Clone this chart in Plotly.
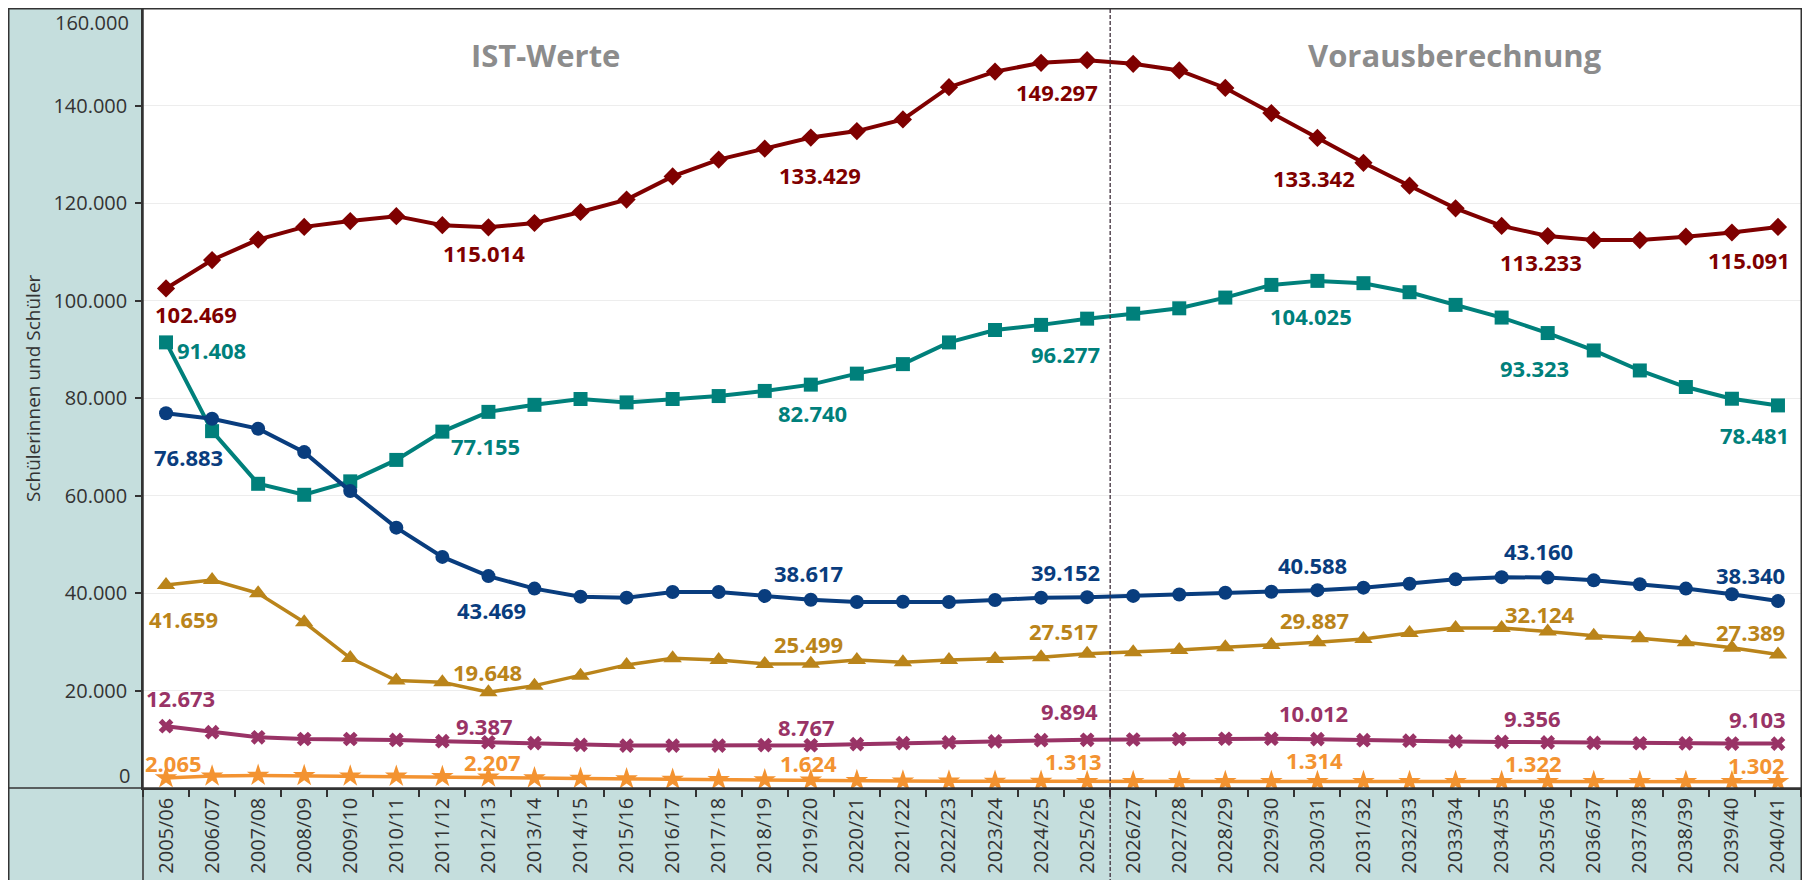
import plotly.graph_objects as go

# ---------------- data ----------------
categories = [
    "2005/06", "2006/07", "2007/08", "2008/09", "2009/10", "2010/11", "2011/12",
    "2012/13", "2013/14", "2014/15", "2015/16", "2016/17", "2017/18", "2018/19",
    "2019/20", "2020/21", "2021/22", "2022/23", "2023/24", "2024/25", "2025/26",
    "2026/27", "2027/28", "2028/29", "2029/30", "2030/31", "2031/32", "2032/33",
    "2033/34", "2034/35", "2035/36", "2036/37", "2037/38", "2038/39", "2039/40",
    "2040/41",
]

red_values = [
    102469, 108300, 112500, 115100, 116300, 117300, 115450, 115014, 115900,
    118150, 120700, 125450, 128900, 131150, 133429, 134750, 137150, 143750,
    146950, 148750, 149297, 148550, 147200, 143600, 138450, 133342, 128250,
    123550, 118900, 115300, 113233, 112400, 112400, 113100, 113950, 115091,
]

teal_values = [
    91408, 73200, 62400, 60150, 62900, 67300, 73100, 77155, 78600,
    79800, 79100, 79800, 80400, 81450, 82740, 85000, 86950, 91400,
    93950, 95000, 96277, 97300, 98400, 100600, 103200, 104025, 103550,
    101700, 99100, 96500, 93323, 89750, 85650, 82250, 79850, 78481,
]

navy_values = [
    76883, 75750, 73700, 68900, 60900, 53400, 47400, 43469, 40900,
    39250, 39050, 40200, 40200, 39400, 38617, 38150, 38200, 38150,
    38550, 39050, 39152, 39400, 39700, 40050, 40250, 40588, 41100,
    41900, 42800, 43250, 43160, 42600, 41800, 40900, 39750, 38340,
]

gold_values = [
    41659, 42650, 39950, 34000, 26650, 22050, 21700, 19648, 21000,
    23050, 25250, 26600, 26250, 25450, 25499, 26250, 25800, 26250,
    26450, 26800, 27517, 27850, 28300, 28850, 29350, 29887, 30550,
    31800, 32800, 32800, 32124, 31250, 30700, 29900, 28750, 27389,
]

purple_values = [
    12673, 11450, 10400, 10050, 10050, 9850, 9600, 9387, 9200,
    8850, 8700, 8700, 8700, 8800, 8767, 9000, 9200, 9350,
    9550, 9800, 9894, 9950, 10050, 10100, 10100, 10012, 9800,
    9700, 9550, 9450, 9356, 9250, 9180, 9150, 9120, 9103,
]

orange_values = [
    2065, 2450, 2580, 2520, 2450, 2400, 2330, 2207, 2050,
    1950, 1850, 1750, 1700, 1680, 1624, 1500, 1420, 1380,
    1350, 1330, 1313, 1300, 1300, 1305, 1310, 1314, 1315,
    1318, 1320, 1322, 1322, 1318, 1315, 1310, 1305, 1302,
]

label_indices = [0, 7, 14, 20, 25, 30, 35]
y_tick_values = [20000, 40000, 60000, 80000, 100000, 120000, 140000]
y_range = [0, 160000]
split_after = "2025/26"
section_titles = ["IST-Werte", "Vorausberechnung"]
y_title = "Schülerinnen und Schüler"

# ---------------- styles ----------------
FONT = "Open Sans"
TEXT = "#333333"
PANEL = "#C5DEDD"

series_styles = [
    # values, color, symbol, marker size, line width
    (red_values, "#7F0000", "diamond", 14, 4),
    (teal_values, "#00807B", "square", 14, 4),
    (navy_values, "#093D7E", "circle", 14, 4),
    (gold_values, "#BA841A", "triangle-up", 16, 3.5),
    (purple_values, "#993366", "x", 13, 4),
    (orange_values, "#F39331", "star", 17, 3.5),
]

# label offsets (dx, dy) in px relative to the point, dy positive = downward
label_offsets = [
    [(30, 26), (-4, 26), (9, 37), (-30, 32), (-3, 40), (-7, 26), (-29, 33)],
    [(45, 8), (-3, 34), (2, 28), (-22, 35), (-6, 35), (-13, 35), (-23, 30)],
    [(22, 44), (3, 34), (-2, -27), (-22, -25), (-5, -25), (-9, -27), (-27, -26)],
    [(17, 34), (-1, -20), (-2, -20), (-24, -23), (-3, -22), (-8, -17), (-27, -22)],
    [(14, -28), (-4, -16), (-4, -18), (-18, -29), (-4, -26), (-15, -24), (-20, -25)],
    [(7, -15), (4, -15), (-2, -17), (-14, -21), (-3, -22), (-14, -19), (-21, -17)],
]

W, H = 1794, 872
L, R, T, B = 135, 1, 0, 92
PW, PH = W - L - R, H - T - B


def fmt(v):
    return f"{v:,}".replace(",", ".")


fig = go.Figure()
annotations = []

for (vals, color, symbol, msize, lw), offs in zip(series_styles, label_offsets):
    fig.add_trace(go.Scatter(
        x=categories, y=vals, mode="lines+markers",
        line=dict(color=color, width=lw),
        marker=dict(symbol=symbol, size=msize, color=color, line=dict(width=0)),
        showlegend=False, hoverinfo="skip",
    ))
    for idx, (dx, dy) in zip(label_indices, offs):
        annotations.append(dict(
            x=categories[idx], y=vals[idx], xref="x", yref="y",
            text=fmt(vals[idx]), showarrow=False,
            xanchor="center", yanchor="middle", xshift=dx, yshift=-dy,
            font=dict(family=FONT, size=22, color=color, weight="bold"),
        ))

# edge tick labels (0 and 160.000) placed inside the panel like the reference
annotations.append(dict(
    x=0, y=y_range[1], xref="paper", yref="y", text=fmt(y_range[1]),
    showarrow=False, xanchor="right", yanchor="middle", xshift=-12, yshift=-14,
    font=dict(family=FONT, size=20, color=TEXT),
))
annotations.append(dict(
    x=0, y=y_range[0], xref="paper", yref="y", text=fmt(y_range[0]),
    showarrow=False, xanchor="right", yanchor="middle", xshift=-11, yshift=13,
    font=dict(family=FONT, size=20, color=TEXT),
))

# y axis title
annotations.append(dict(
    x=(33 - 8 - L) / PW, y=(780 - (388 - 8)) / PH, xref="paper", yref="paper",
    text=y_title, showarrow=False, textangle=-90,
    xanchor="center", yanchor="middle",
    font=dict(family=FONT, size=19, color=TEXT),
))

# section titles
for title, xp in zip(section_titles, [(545 - 143) / PW, (1455 - 143) / PW]):
    annotations.append(dict(
        x=xp, y=(780 - (55 - 8)) / PH, xref="paper", yref="paper",
        text=title, showarrow=False, xanchor="center", yanchor="middle",
        font=dict(family=FONT, size=31, color="#8C8C8C", weight="bold"),
    ))

split_pos = categories.index(split_after) + 0.5
x_left = -L / PW
y_bottom = -B / PH

shapes = [
    # plot area white over teal paper
    dict(type="rect", xref="paper", yref="paper", x0=0, x1=1, y0=0, y1=1,
         fillcolor="white", line=dict(width=0), layer="below"),
    # outer frame
    dict(type="rect", xref="paper", yref="paper", x0=x_left, x1=1 + R / PW,
         y0=y_bottom - 0.05, y1=1, line=dict(color=TEXT, width=3), layer="above"),
    # vertical separator (y axis line through bottom panel)
    dict(type="line", xref="paper", yref="paper", x0=0, x1=0, y0=y_bottom - 0.05, y1=1,
         line=dict(color=TEXT, width=1.5), layer="above"),
    # horizontal separator (x axis line through left panel)
    dict(type="line", xref="paper", yref="paper", x0=x_left, x1=1, y0=0, y1=0,
         line=dict(color=TEXT, width=1.5), layer="above"),
    # IST / Vorausberechnung split
    dict(type="line", xref="x", yref="paper", x0=split_pos, x1=split_pos,
         y0=y_bottom - 0.05, y1=1,
         line=dict(color="#3E2E3A", width=1.3, dash="4px,2px"), layer="above"),
]

fig.update_layout(
    width=W, height=H, autosize=False,
    margin=dict(l=L, r=R, t=T, b=B, pad=0),
    paper_bgcolor=PANEL, plot_bgcolor="white",
    separators=",.",
    font=dict(family=FONT, color=TEXT, size=20),
    xaxis=dict(
        type="category", categoryorder="array", categoryarray=categories,
        range=[-0.5, len(categories) - 0.5],
        showline=True, linecolor=TEXT, linewidth=1.5,
        ticks="outside", tickson="boundaries", ticklen=7, tickcolor=TEXT, tickwidth=1.5,
        tickangle=-90, tickfont=dict(family=FONT, size=20, color=TEXT),
        showgrid=False, zeroline=False, fixedrange=True,
    ),
    yaxis=dict(
        range=y_range, tickvals=y_tick_values, tickformat=",d",
        showline=True, linecolor=TEXT, linewidth=1.5,
        ticks="outside", ticklen=6, tickcolor=TEXT, tickwidth=1.5,
        ticklabelstandoff=4,
        tickfont=dict(family=FONT, size=20, color=TEXT),
        showgrid=True, gridcolor="#EDEDED", gridwidth=1,
        zeroline=False, fixedrange=True,
    ),
    annotations=annotations,
    shapes=shapes,
)

fig.write_html(
    "out.html",
    config={"displayModeBar": False},
    post_script="document.body.style.margin='8px 8px 0 8px';",
)
